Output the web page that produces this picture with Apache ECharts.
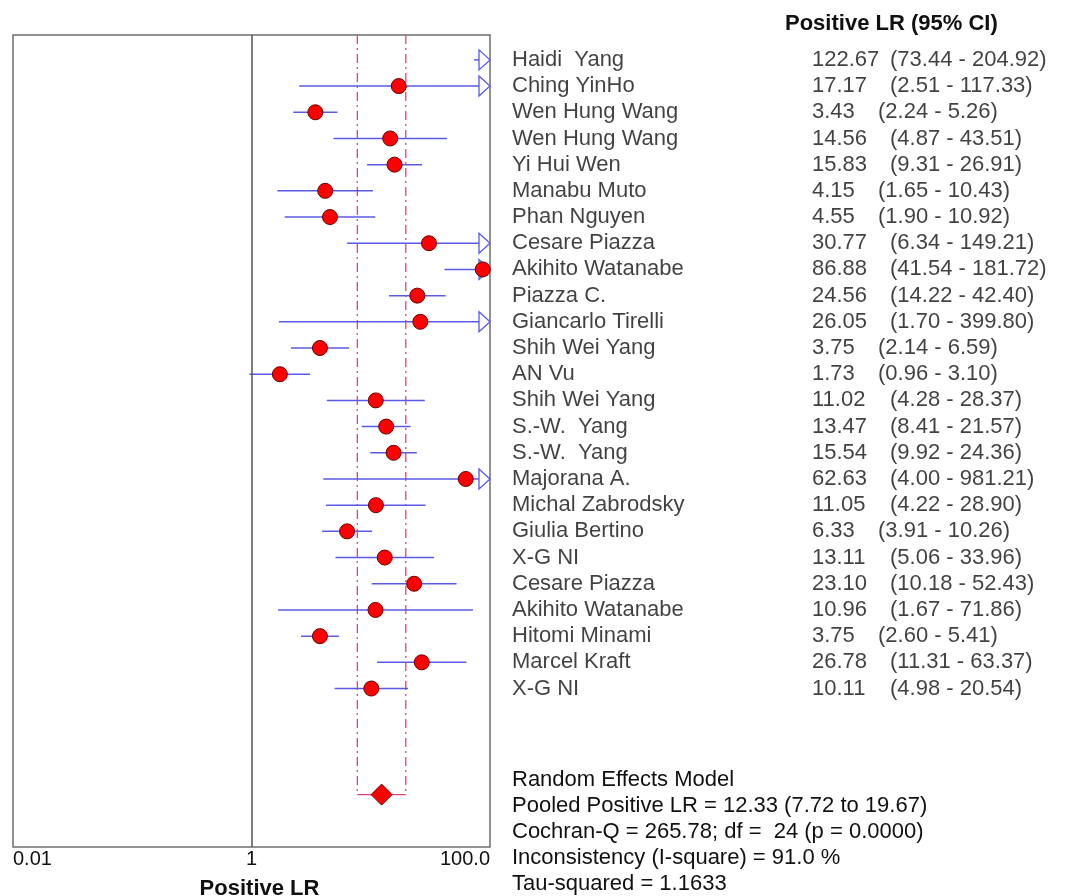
<!DOCTYPE html>
<html>
<head>
<meta charset="utf-8">
<script src="https://cdn.jsdelivr.net/npm/echarts@6/dist/echarts.min.js"></script>
<style>
html,body{margin:0;padding:0;background:#fff;}
#chart{width:1073px;height:896px;}
</style>
</head>
<body>
<div id="chart"></div>
<script>
// ---------- DATA ----------
const studyNames = [
  'Haidi  Yang','Ching YinHo','Wen Hung Wang','Wen Hung Wang','Yi Hui Wen',
  'Manabu Muto','Phan Nguyen','Cesare Piazza','Akihito Watanabe','Piazza C.',
  'Giancarlo Tirelli','Shih Wei Yang','AN Vu','Shih Wei Yang','S.-W.  Yang',
  'S.-W.  Yang','Majorana A.','Michal Zabrodsky','Giulia Bertino','X-G NI',
  'Cesare Piazza','Akihito Watanabe','Hitomi Minami','Marcel Kraft','X-G NI'
];
const estimates = [122.67,17.17,3.43,14.56,15.83,4.15,4.55,30.77,86.88,24.56,
  26.05,3.75,1.73,11.02,13.47,15.54,62.63,11.05,6.33,13.11,23.10,10.96,3.75,26.78,10.11];
const lowerCI = [73.44,2.51,2.24,4.87,9.31,1.65,1.90,6.34,41.54,14.22,
  1.70,2.14,0.96,4.28,8.41,9.92,4.00,4.22,3.91,5.06,10.18,1.67,2.60,11.31,4.98];
const upperCI = [204.92,117.33,5.26,43.51,26.91,10.43,10.92,149.21,181.72,42.40,
  399.80,6.59,3.10,28.37,21.57,24.36,981.21,28.90,10.26,33.96,52.43,71.86,5.41,63.37,20.54];
const pooledValues = [12.33, 7.72, 19.67]; // estimate, lower, upper
const xTickValues = [0.01, 1, 100];
const xTickLabels = ['0.01', '1', '100.0'];
const headerText = 'Positive LR (95% CI)';
const axisTitle = 'Positive LR';
const statsLines = [
  'Random Effects Model',
  'Pooled Positive LR = 12.33 (7.72 to 19.67)',
  'Cochran-Q = 265.78; df =  24 (p = 0.0000)',
  'Inconsistency (I-square) = 91.0 %',
  'Tau-squared = 1.1633'
];

// ---------- LAYOUT ----------
const X_MIN = 0.01, X_MAX = 100;
const Y_MIN = -0.95, Y_MAX = 30.05;
const POOLED_ROW = 28.05;
const NAME_X = 512, VALUE_X = 812;
const FONT = '"Liberation Sans", Arial, sans-serif';
const TXT = 22;
const CI_BLUE = '#5a5ae6';
const PINK = '#e0447c';

const rows = studyNames.map((_, i) => i);

const chart = echarts.init(document.getElementById('chart'), null, {renderer: 'canvas'});

const ciData = rows.map(i => [lowerCI[i], upperCI[i], i]);
const pointData = rows.map(i => [estimates[i], i]);

const nameData = rows.map(i => ({value: [NAME_X, i], label: {formatter: studyNames[i]}}));
const valueData = rows.map(i => ({value: [VALUE_X, i], label: {formatter: estimates[i].toFixed(2)}}));
const ciTextData = rows.map(i => {
  const s = estimates[i].toFixed(2);
  const x = VALUE_X + (s.length >= 5 ? 78 : 66);
  return {value: [x, i], label: {formatter: '(' + lowerCI[i].toFixed(2) + ' - ' + upperCI[i].toFixed(2) + ')'}};
});

const textSeries = (data) => ({
  type: 'scatter', xAxisIndex: 1, yAxisIndex: 1, data: data,
  symbolSize: 0, silent: true, clip: false,
  label: {show: true, position: 'inside', align: 'left', verticalAlign: 'middle',
          color: '#111', fontSize: TXT, fontFamily: FONT}
});

const option = {
  animation: false,
  backgroundColor: '#fff',
  grid: [
    {left: 13, top: 35, width: 477, height: 812, show: true, borderColor: '#6e6e6e', borderWidth: 1.5,
     backgroundColor: 'transparent', containLabel: false, outerBoundsMode: 'none'},
    {left: 0, top: 35, width: 1073, height: 812, show: false, containLabel: false, outerBoundsMode: 'none'}
  ],
  xAxis: [
    {
      type: 'log', logBase: 10, min: X_MIN, max: X_MAX, gridIndex: 0,
      axisLine: {show: false}, axisTick: {show: false}, splitLine: {show: false},
      axisLabel: {
        show: true, margin: 2, color: '#111', fontSize: 20, fontFamily: FONT,
        alignMinLabel: 'left', alignMaxLabel: 'right',
        formatter: function (v) {
          for (let k = 0; k < xTickValues.length; k++) {
            if (Math.abs(Math.log10(v) - Math.log10(xTickValues[k])) < 1e-6) return xTickLabels[k];
          }
          return '';
        }
      },
      name: axisTitle, nameLocation: 'middle', nameGap: 31,
      nameTextStyle: {fontSize: 22, fontWeight: 'bold', color: '#111', fontFamily: FONT, padding: [0, 0, 0, 16]}
    },
    {type: 'value', min: 0, max: 1073, gridIndex: 1, show: false}
  ],
  yAxis: [
    {type: 'value', inverse: true, min: Y_MIN, max: Y_MAX, gridIndex: 0, show: false},
    {type: 'value', inverse: true, min: Y_MIN, max: Y_MAX, gridIndex: 1, show: false}
  ],
  graphic: [
    {type: 'text', left: 785, top: 13, style: {text: headerText, font: 'bold 22px ' + FONT, fill: '#111'}}
  ].concat(statsLines.map((t, k) => ({
    type: 'text', left: NAME_X, top: 769 + 26 * k,
    style: {text: t, font: TXT + 'px ' + FONT, fill: '#111'}
  }))),
  series: [
    // pooled CI bracket
    {
      type: 'custom', xAxisIndex: 0, yAxisIndex: 0, z: 1, silent: true,
      data: [[pooledValues[1], pooledValues[2], POOLED_ROW]],
      encode: {x: [0, 1], y: 2},
      renderItem: function (params, api) {
        const cs = params.coordSys;
        const lo = api.coord([api.value(0), api.value(2)]);
        const hi = api.coord([api.value(1), api.value(2)]);
        const dash = [9, 4, 2, 4];
        return {type: 'group', children: [
          {type: 'line', shape: {x1: lo[0], y1: cs.y, x2: lo[0], y2: lo[1]}, style: {stroke: PINK, lineWidth: 1.3, lineDash: dash}},
          {type: 'line', shape: {x1: hi[0], y1: cs.y, x2: hi[0], y2: hi[1]}, style: {stroke: PINK, lineWidth: 1.3, lineDash: dash}},
          {type: 'line', shape: {x1: lo[0], y1: lo[1], x2: hi[0], y2: hi[1]}, style: {stroke: PINK, lineWidth: 1.3}}
        ]};
      }
    },
    // CI lines with arrows
    {
      type: 'custom', xAxisIndex: 0, yAxisIndex: 0, z: 2, silent: true,
      data: ciData, encode: {x: [0, 1], y: 2},
      renderItem: function (params, api) {
        const lo = api.value(0), hi = api.value(1), row = api.value(2);
        const p1 = api.coord([Math.max(lo, X_MIN), row]);
        const p2 = api.coord([Math.min(hi, X_MAX), row]);
        const children = [{type: 'line', shape: {x1: p1[0], y1: p1[1], x2: p2[0], y2: p2[1]}, style: {stroke: CI_BLUE, lineWidth: 1.5}}];
        if (hi > X_MAX) {
          const tx = p2[0], ty = p2[1];
          children.push({type: 'polygon', shape: {points: [[tx - 11, ty - 10], [tx, ty], [tx - 11, ty + 10]]},
            style: {fill: '#fff', stroke: CI_BLUE, lineWidth: 1.3}});
        }
        return {type: 'group', children: children};
      }
    },
    // point estimates
    {
      type: 'scatter', xAxisIndex: 0, yAxisIndex: 0, z: 3, silent: true, clip: true,
      data: pointData, symbol: 'circle', symbolSize: 15,
      itemStyle: {color: '#ff0000', borderColor: '#6a0000', borderWidth: 1, opacity: 1},
      markLine: {
        silent: true, symbol: 'none', label: {show: false},
        lineStyle: {color: '#555', width: 1.5, type: 'solid'},
        data: [{xAxis: 1}]
      }
    },
    // pooled diamond
    {
      type: 'scatter', xAxisIndex: 0, yAxisIndex: 0, z: 4, silent: true,
      data: [[pooledValues[0], POOLED_ROW]], symbol: 'diamond', symbolSize: [21, 21],
      itemStyle: {color: '#ff0000', borderColor: '#6a0000', borderWidth: 1, opacity: 1}
    },
    textSeries(nameData),
    textSeries(valueData),
    textSeries(ciTextData)
  ]
};
chart.setOption(option);
</script>
</body>
</html>
